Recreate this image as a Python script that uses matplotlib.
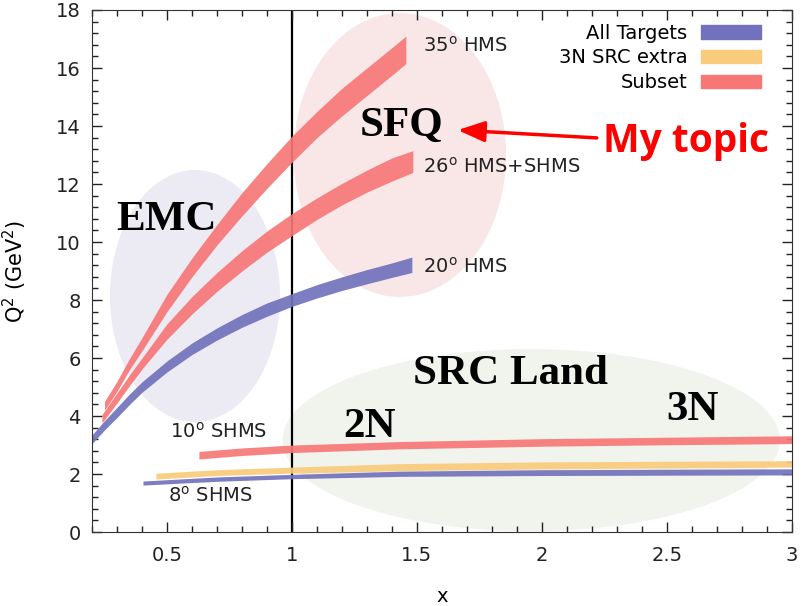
import matplotlib.pyplot as plt
from matplotlib.patches import Ellipse, Patch
from matplotlib.ticker import MultipleLocator

# ── band data (x, lower Q2, upper Q2) ────────────────────────────────────────

x35 = [0.25, 0.3, 0.35, 0.4, 0.5, 0.6, 0.7, 0.8, 0.9, 1.0, 1.1, 1.2, 1.3, 1.4, 1.456]
lo35 = [4.2, 4.85, 5.6, 6.25, 7.6, 8.8, 9.9, 10.9, 11.85, 12.75, 13.6, 14.35,
        15.05, 15.75, 16.15]
hi35 = [4.5, 5.2, 5.98, 6.7, 8.2, 9.45, 10.6, 11.7, 12.7, 13.65, 14.5, 15.3,
        16.0, 16.7, 17.1]

x26 = [0.24, 0.3, 0.35, 0.4, 0.5, 0.6, 0.7, 0.8, 0.9, 1.0, 1.1, 1.2, 1.3, 1.4, 1.484]
lo26 = [3.76, 4.45, 5.05, 5.62, 6.65, 7.52, 8.3, 9.0, 9.65, 10.22, 10.78, 11.28,
        11.72, 12.1, 12.4]
hi26 = [4.05, 4.8, 5.42, 6.0, 7.18, 8.12, 8.95, 9.7, 10.38, 10.98, 11.52, 12.02,
        12.48, 12.9, 13.15]

x20 = [0.2, 0.25, 0.3, 0.35, 0.4, 0.5, 0.6, 0.7, 0.8, 0.9, 1.0, 1.1, 1.2, 1.3, 1.4, 1.48]
lo20 = [3.05, 3.52, 3.95, 4.4, 4.82, 5.52, 6.12, 6.62, 7.06, 7.44, 7.78, 8.07,
        8.33, 8.56, 8.78, 8.95]
hi20 = [3.35, 3.84, 4.3, 4.76, 5.18, 5.9, 6.52, 7.04, 7.5, 7.9, 8.22, 8.53,
        8.8, 9.05, 9.28, 9.48]

x10 = [0.628, 0.8, 1.0, 1.43, 2.0, 2.5, 3.0]
lo10 = [2.52, 2.64, 2.74, 2.87, 2.96, 3.01, 3.05]
hi10 = [2.78, 2.9, 3.0, 3.12, 3.22, 3.27, 3.32]

x3n = [0.456, 0.7, 1.0, 1.43, 2.0, 3.0]
lo3n = [1.83, 1.95, 2.03, 2.12, 2.18, 2.24]
hi3n = [2.03, 2.15, 2.24, 2.36, 2.42, 2.46]

x8 = [0.404, 0.7, 1.0, 1.43, 2.0, 3.0]
lo8 = [1.62, 1.75, 1.84, 1.92, 1.95, 1.97]
hi8 = [1.76, 1.9, 1.99, 2.1, 2.15, 2.18]

legend_labels = ["All Targets", "3N SRC extra", "Subset"]

BLUE = "#7272bc"
YELLOW = "#f9cb7c"
RED = "#f77777"

# ── figure ───────────────────────────────────────────────────────────────────

fig = plt.figure(figsize=(8.07, 6.06), dpi=100)
ax = fig.add_axes([0.114, 0.122, 0.867, 0.8615])

# background regions
ax.add_patch(Ellipse((0.612, 8.14), 0.68, 8.69, color="#ecebf4", lw=0, zorder=0))
ax.add_patch(Ellipse((1.432, 13.0), 0.85, 9.79, color="#f9e7e7", lw=0, zorder=0))
ax.add_patch(Ellipse((1.958, 3.17), 1.99, 6.28, color="#f0f4ec", lw=0, zorder=0))

ax.axvline(1.0, color="black", lw=1.6, zorder=1)

# bands
ax.fill_between(x35, lo35, hi35, color=RED, alpha=0.92, lw=0, zorder=2)
ax.fill_between(x26, lo26, hi26, color=RED, alpha=0.92, lw=0, zorder=2)
ax.fill_between(x20, lo20, hi20, color=BLUE, alpha=0.92, lw=0, zorder=2)
ax.fill_between(x10, lo10, hi10, color=RED, alpha=0.92, lw=0, zorder=2)
ax.fill_between(x3n, lo3n, hi3n, color=YELLOW, alpha=0.92, lw=0, zorder=2)
ax.fill_between(x8, lo8, hi8, color=BLUE, alpha=0.92, lw=0, zorder=2)

# spectrometer labels
lab = dict(fontsize=14, ha="left", va="baseline", color="#222222")
ax.text(1.524, 16.55, "35$^{\\rm o}$ HMS", **lab)
ax.text(1.524, 12.38, "26$^{\\rm o}$ HMS+SHMS", **lab)
ax.text(1.524, 8.93, "20$^{\\rm o}$ HMS", **lab)
ax.text(0.512, 3.24, "10$^{\\rm o}$ SHMS", **lab)
ax.text(0.504, 1.03, "8$^{\\rm o}$ SHMS", **lab)

# region names
big = dict(fontsize=31, fontweight="bold", family="Liberation Serif",
           ha="center", va="baseline", color="black")
ax.text(0.5, 10.41, "EMC", **big)
ax.text(1.44, 13.66, "SFQ", **big)
ax.text(1.876, 5.10, "SRC Land", **big)
ax.text(1.312, 3.28, "2N", **big)
ax.text(2.604, 3.86, "3N", **big)

# annotation
ax.annotate("", xy=(1.664, 13.86), xytext=(2.22, 13.59),
            arrowprops=dict(arrowstyle="-|>,head_length=0.9,head_width=0.35",
                            color="red", lw=2.5, mutation_scale=18,
                            shrinkA=0, shrinkB=0))
ax.text(2.244, 13.1, "My topic", fontsize=28, fontweight="bold",
        family="Open Sans", color="red", ha="left", va="baseline")

# legend
handles = [Patch(color=BLUE), Patch(color=YELLOW), Patch(color=RED)]
ax.legend(handles, legend_labels, loc="upper right", frameon=False,
          markerfirst=False, fontsize=14, handlelength=3.1, labelspacing=0.3,
          handletextpad=0.7, bbox_to_anchor=(0.976, 1.0), borderaxespad=0.3)

# axes
ax.set_xlim(0.2, 3.0)
ax.set_ylim(0, 18)
ax.xaxis.set_major_locator(MultipleLocator(0.5))
ax.xaxis.set_minor_locator(MultipleLocator(0.1))
ax.yaxis.set_major_locator(MultipleLocator(2))
ax.yaxis.set_minor_locator(MultipleLocator(0.4))
ax.set_xticks([0.5, 1, 1.5, 2, 2.5, 3])
ax.set_xticklabels(["0.5", "1", "1.5", "2", "2.5", "3"])
ax.tick_params(which="both", direction="in", top=True, right=True, labelsize=14,
               colors="#222222")
ax.tick_params(which="major", length=7, width=1)
ax.tick_params(which="minor", length=4, width=1)
ax.tick_params(axis="y", pad=8)
ax.tick_params(axis="x", pad=10)
for s in ax.spines.values():
    s.set_color("#333333")
ax.set_xlabel("x", fontsize=14)
ax.set_ylabel("Q$^2$ (GeV$^2$)", fontsize=15)
ax.xaxis.set_label_coords(0.5, -0.105)
ax.yaxis.set_label_coords(-0.09, 0.5)

fig.savefig("out.png", dpi=100)
